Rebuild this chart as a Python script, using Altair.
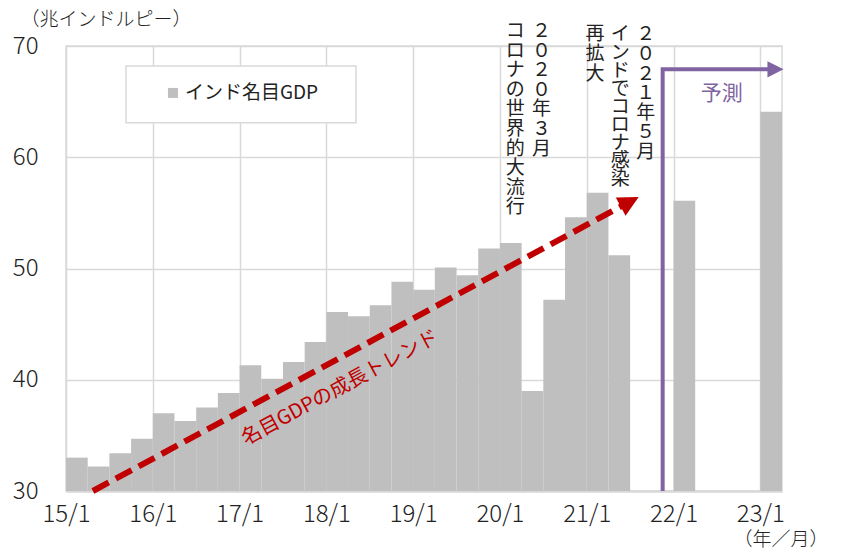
import altair as alt
import pandas as pd

# ---------------- data ----------------
series_name = "インド名目GDP"
quarter_labels = ["15/1", "15/2", "15/3", "15/4", "16/1", "16/2", "16/3", "16/4",
                  "17/1", "17/2", "17/3", "17/4", "18/1", "18/2", "18/3", "18/4",
                  "19/1", "19/2", "19/3", "19/4", "20/1", "20/2", "20/3", "20/4",
                  "21/1", "21/2", "22/1", "23/1"]
quarter_index = list(range(26)) + [28, 32]
gdp_values = [33.0, 32.2, 33.4, 34.7, 37.0, 36.3, 37.5, 38.8,
              41.3, 40.1, 41.6, 43.4, 46.1, 45.7, 46.7, 48.8,
              48.1, 50.1, 49.4, 51.8, 52.3, 39.0, 47.2, 54.6,
              56.8, 51.2, 56.1, 64.1]
tick_labels = ["15/1", "16/1", "17/1", "18/1", "19/1", "20/1", "21/1", "22/1", "23/1"]
tick_values = [0, 4, 8, 12, 16, 20, 24, 28, 32]
y_ticks = [30, 40, 50, 60, 70]

# trend arrow (quarter index, value)
trend_x = [1.24, 25.98]
trend_y = [30.0, 56.0]
# forecast bracket arrow
fc_x = [27.5, 27.5, 32.7]
fc_y = [30.0, 67.9, 67.9]

notes = ["コロナの世界的大流行", "２０２０年３月", "再拡大", "２０２１年５月"]
notes_x = [20.70, 21.92, 24.38, 26.72]
notes_y = [72.15, 72.15, 71.85, 71.85]
note_b = "インドでコロナ感染"
note_b_x = 25.55
note_b_y = 71.85

CJK = "Noto Sans CJK JP"
NUM = "Noto Sans CJK JP"
TXT = "#222222"
GRAY = "#BFBFBF"
RED = "#C00000"
PURPLE = "#8064A2"

df = pd.DataFrame({"x": quarter_index, "x2": [q + 1 for q in quarter_index],
                   "y": gdp_values, "label": quarter_labels})

xscale = alt.Scale(domain=[0, 33], nice=False, zero=False)
yscale = alt.Scale(domain=[30, 70], nice=False, zero=False)

label_expr = "[" + ",".join(f"'{t}'" for t in tick_labels) + "][round(datum.value/4)]"

xaxis = alt.Axis(values=tick_values, labelExpr=label_expr, grid=True, ticks=False,
                 labelFlush=False, labelOverlap=False,
                 labelFont=NUM, labelFontSize=24, labelFontWeight=300, labelColor=TXT,
                 labelPadding=11,
                 domainColor="#D9D9D9", domainWidth=2.5,
                 title="（年／月）", titleFont=CJK, titleFontSize=19, titleFontWeight=300,
                 titleColor=TXT, titleX=667, titleY=48, titleAlign="left",
                 titleBaseline="middle", titleAngle=0)
yaxis = alt.Axis(values=y_ticks, grid=True, ticks=False, domain=False,
                 labelFont=NUM, labelFontSize=24, labelFontWeight=300, labelColor=TXT,
                 labelPadding=28,
                 title="（兆インドルピー）", titleFont=CJK, titleFontSize=19,
                 titleFontWeight=300, titleColor=TXT, titleAngle=0,
                 titleX=-46, titleY=-27, titleAlign="left", titleBaseline="middle")

bars = alt.Chart(df).mark_rect(color=GRAY).encode(
    x=alt.X("x:Q", scale=xscale, axis=xaxis),
    x2="x2:Q",
    y=alt.Y("y:Q", scale=yscale, axis=yaxis),
    y2=alt.datum(30),
)

# trend arrow
trend_df = pd.DataFrame({"x": trend_x, "y": trend_y})
trend_line = alt.Chart(trend_df).mark_line(color=RED, strokeWidth=6, strokeDash=[18, 8],
                                           strokeCap="butt", clip=False).encode(
    x=alt.X("x:Q", scale=xscale), y=alt.Y("y:Q", scale=yscale))
trend_head = alt.Chart(trend_df.iloc[[1]]).mark_point(
    shape="M-1,-1L1,0L-1,1Z", filled=True, color=RED, opacity=1, size=420,
    angle=331.6, clip=False).encode(
    x=alt.X("x:Q", scale=xscale), y=alt.Y("y:Q", scale=yscale))
trend_text = alt.Chart(pd.DataFrame({"x": [12.63], "y": [39.26], "t": ["名目GDPの成長トレンド"]})).mark_text(
    font=CJK, fontSize=20, color=RED, angle=331.6, align="center", baseline="middle").encode(
    x=alt.X("x:Q", scale=xscale), y=alt.Y("y:Q", scale=yscale), text="t:N")

# forecast arrow
fc_df = pd.DataFrame({"x": fc_x, "y": fc_y, "i": [0, 1, 2]})
fc_line = alt.Chart(fc_df).mark_line(color=PURPLE, strokeWidth=4, strokeJoin="miter",
                                     clip=False).encode(
    x=alt.X("x:Q", scale=xscale), y=alt.Y("y:Q", scale=yscale), order="i:Q")
fc_head = alt.Chart(fc_df.iloc[[2]]).mark_point(
    shape="M-1,-1L1,0L-1,1Z", filled=True, color=PURPLE, opacity=1, size=260,
    clip=False).encode(
    x=alt.X("x:Q", scale=xscale), y=alt.Y("y:Q", scale=yscale))
fc_text = alt.Chart(pd.DataFrame({"x": [30.22], "y": [65.69], "t": ["予測"]})).mark_text(
    font=CJK, fontSize=21, color=PURPLE, align="center", baseline="middle").encode(
    x=alt.X("x:Q", scale=xscale), y=alt.Y("y:Q", scale=yscale), text="t:N")

# vertical annotations
notes_df = pd.DataFrame({"x": notes_x, "y": notes_y,
                         "t": ["\n".join(list(s)) for s in notes]})
notes_text = alt.Chart(notes_df).mark_text(
    font=CJK, fontSize=19, color=TXT, align="center", baseline="top",
    lineBreak="\n", lineHeight=19.6, clip=False).encode(
    x=alt.X("x:Q", scale=xscale), y=alt.Y("y:Q", scale=yscale), text="t:N")
note_b_text = alt.Chart(pd.DataFrame({"x": [note_b_x], "y": [note_b_y],
                                      "t": ["\n".join(list(note_b))]})).mark_text(
    font=CJK, fontSize=19, color=TXT, align="center", baseline="top",
    lineBreak="\n", lineHeight=18.1, clip=False).encode(
    x=alt.X("x:Q", scale=xscale), y=alt.Y("y:Q", scale=yscale), text="t:N")

# legend box
leg_box = alt.Chart(pd.DataFrame({"x": [2.765], "x2": [13.366], "y": [68.2], "y2": [63.1]})).mark_rect(
    fill="white", stroke="#D9D9D9", strokeWidth=1.5).encode(
    x=alt.X("x:Q", scale=xscale), x2="x2:Q", y=alt.Y("y:Q", scale=yscale), y2="y2:Q")
leg_sym = alt.Chart(pd.DataFrame({"x": [4.93], "y": [65.78]})).mark_square(
    color=GRAY, opacity=1, size=100).encode(
    x=alt.X("x:Q", scale=xscale), y=alt.Y("y:Q", scale=yscale))
leg_txt = alt.Chart(pd.DataFrame({"x": [5.48], "y": [65.78], "t": [series_name]})).mark_text(
    font=CJK, fontSize=19, color=TXT, align="left", baseline="middle").encode(
    x=alt.X("x:Q", scale=xscale), y=alt.Y("y:Q", scale=yscale), text="t:N")

chart = alt.layer(bars, leg_box, leg_sym, leg_txt, trend_line, trend_head, trend_text,
                  fc_line, fc_head, fc_text, notes_text, note_b_text).properties(
    width=716, height=445,
    autosize=alt.AutoSizeParams(type="none"),
    padding={"left": 58, "top": 38, "right": 51, "bottom": 58},
    background="white",
).configure_view(stroke="#D9D9D9", strokeWidth=1.5).configure_axis(
    gridColor="#D9D9D9", gridWidth=1.5)

chart.save("out.html", embed_options={"renderer": "svg", "actions": False})
